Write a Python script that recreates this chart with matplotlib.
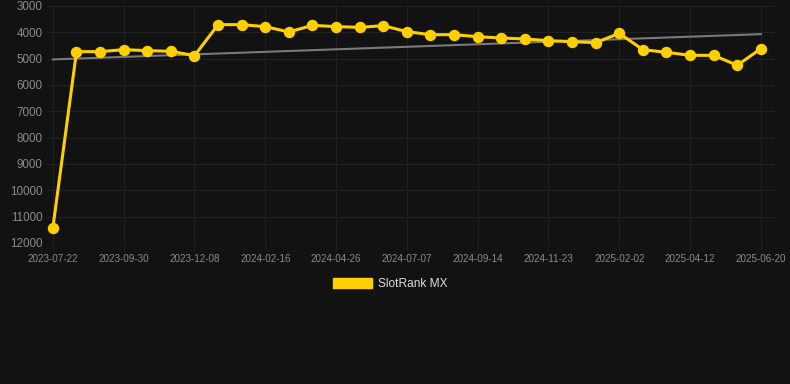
import numpy as np
import matplotlib
matplotlib.use("Agg")
from matplotlib import pyplot as plt
from matplotlib.patches import Patch

# rank values, one per sample (31 samples, x axis labelled every third one)
rank = [11414, 4734, 4734, 4658, 4696, 4720, 4886, 3708, 3708, 3784, 3987,
        3734, 3784, 3810, 3747, 3974, 4089, 4089, 4165, 4215, 4252, 4316,
        4354, 4392, 4038, 4658, 4759, 4873, 4873, 5253, 4620]
tick_labels = ["2023-07-22", "2023-09-30", "2023-12-08", "2024-02-16",
               "2024-04-26", "2024-07-07", "2024-09-14", "2024-11-23",
               "2025-02-02", "2025-04-12", "2025-06-20"]
y_ticks = [3000, 4000, 5000, 6000, 7000, 8000, 9000, 10000, 11000, 12000]
series_name = "SlotRank MX"

bg = "#121212"
yellow = "#FFD000"
grid_col = "#202020"
tick_col = "#8a8a8a"

plt.rcParams['font.family'] = ['Liberation Sans', 'DejaVu Sans']

fig = plt.figure(figsize=(7.9, 3.84), dpi=100, facecolor=bg)
ax = fig.add_axes([47/790, 1-243/384, (775-47)/790, (243-6)/384])
ax.set_facecolor(bg)

x = np.arange(len(rank))
# linear trend over the samples
k, b = np.polyfit(x, rank, 1)
ax.plot([x[0], x[-1]], [k*x[0]+b, k*x[-1]+b], color="#7a7a7a", lw=1.5, zorder=2)
ax.plot(x, rank, color=yellow, lw=2.2, marker="o", ms=7.2, zorder=3)

ax.set_ylim(12000, 3000)
ax.set_xlim(-0.25, 30.6)
ax.set_yticks(y_ticks)
ax.set_xticks(x[::3])
ax.set_xticklabels(tick_labels)
ax.tick_params(axis="y", colors=tick_col, labelsize=8.4, length=0, pad=3)
ax.tick_params(axis="x", colors=tick_col, labelsize=7.1, length=5, color=grid_col, pad=3)
ax.grid(True, color=grid_col, lw=0.8)
for s in ax.spines.values():
    s.set_visible(False)

fig.legend(handles=[Patch(color=yellow, label=series_name)], loc="center",
           bbox_to_anchor=(390/790, 1-284/384), frameon=False, fontsize=8.6,
           labelcolor="#dddddd", handlelength=3.3, handleheight=0.95,
           handletextpad=0.5)

fig.savefig("out.png", dpi=100, facecolor=bg)
